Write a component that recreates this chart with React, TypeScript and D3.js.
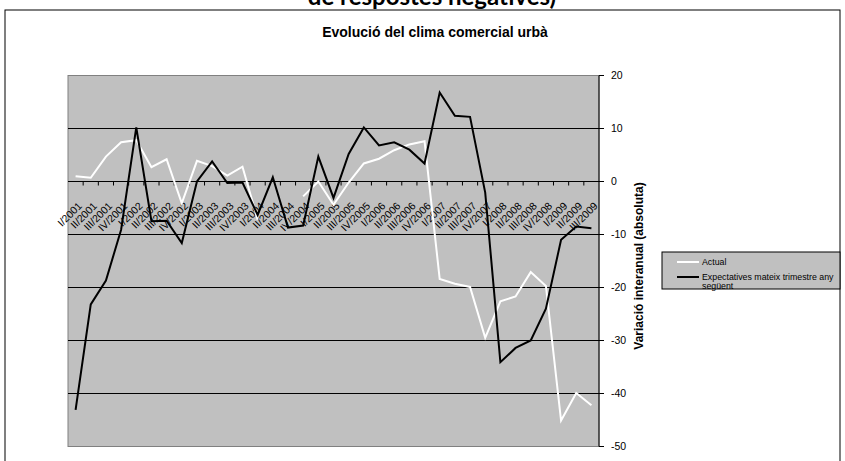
import React from "react";
import * as d3 from "d3";

const quarters = ["I", "II", "III", "IV"];
const categories: string[] = Array.from({ length: 35 }, (_, i) => `${quarters[i % 4]}/${2001 + Math.floor(i / 4)}`);

const actual: (number | null)[] = [1.0, 0.7, 4.7, 7.4, 7.8, 2.7, 4.2, -4.1, 3.9, 2.9, 1.1, 2.8, -7.2, null, null, -2.8, 0.0, -4.4, -0.2, 3.4, 4.3, 5.9, 7.0, 7.6, -18.4, -19.3, -19.9, -29.5, -22.6, -21.7, -17.1, -19.7, -45.1, -39.9, -42.2];
const expectatives: (number | null)[] = [-43.1, -23.2, -18.7, -9.1, 10.2, -7.5, -7.4, -11.6, 0.0, 3.8, -0.3, -0.2, -6.3, 0.8, -8.7, -8.3, 4.7, -3.1, 5.2, 10.2, 6.8, 7.4, 6.0, 3.4, 16.8, 12.4, 12.2, -2.1, -34.1, -31.4, -30.0, -24.0, -11.0, -8.5, -8.8];
const yTicks = [20, 10, 0, -10, -20, -30, -40, -50];

const W = 845, H = 461;
const P = { left: 68, right: 599, top: 75.5, bottom: 446.5 };

export default function App() {
  const x = d3.scaleBand<string>().domain(categories).range([P.left, P.right]).padding(0);
  const bw = x.bandwidth();
  const cx = (i: number) => (x(categories[i]) as number) + bw / 2;
  const y = d3.scaleLinear().domain([-50, 20]).range([P.bottom, P.top]);
  const line = d3.line<number | null>()
    .defined((d) => d !== null)
    .x((_, i) => cx(i))
    .y((d) => y(d as number));
  const y0 = y(0);
  const font = "'Liberation Sans', Arial, sans-serif";

  return (
    <svg width={W} height={H} style={{ position: "absolute", left: 0, top: 0, background: "#fff" }} fontFamily={font}>
      <text x={432} y={5} textAnchor="middle" fontSize={24} fontWeight="bold" fontFamily="Lato, sans-serif">de respostes negatives)</text>
      <rect x={5} y={10} width={835} height={470} fill="#fff" stroke="#000" strokeWidth={1} />
      <text x={435} y={37} textAnchor="middle" fontSize={14} fontWeight="bold">Evolució del clima comercial urbà</text>

      <rect x={P.left} y={P.top} width={P.right - P.left} height={P.bottom - P.top} fill="#c0c0c0" stroke="#808080" strokeWidth={1} />
      {yTicks.filter((t) => t < 20 && t > -50).map((t) => (
        <line key={t} x1={P.left} x2={P.right} y1={y(t)} y2={y(t)} stroke="#000" strokeWidth={1} />
      ))}
      {categories.slice(1).map((c) => (
        <line key={c} x1={x(c)} x2={x(c)} y1={y0} y2={y0 + 4} stroke="#000" strokeWidth={1} />
      ))}
      {categories.map((c, i) => (
        <text key={c} transform={`translate(${cx(i) + 7},${y0 + 25}) rotate(-45)`} textAnchor="end" fontSize={10.5} fill="#000">{c}</text>
      ))}

      <path d={line(actual) || ""} fill="none" stroke="#fff" strokeWidth={2} />
      <path d={line(expectatives) || ""} fill="none" stroke="#000" strokeWidth={2} />

      <line x1={P.right} x2={P.right} y1={P.top} y2={P.bottom} stroke="#000" strokeWidth={1} />
      {yTicks.map((t) => (
        <g key={t}>
          <line x1={P.right} x2={P.right + 5} y1={y(t)} y2={y(t)} stroke="#000" />
          <text x={P.right + 12} y={y(t)} dy="0.35em" fontSize={10.5}>{t}</text>
        </g>
      ))}
      <text transform={`translate(${643},${266}) rotate(-90)`} textAnchor="middle" fontSize={12} fontWeight="bold">Variació interanual (absoluta)</text>

      <rect x={662} y={252} width={178} height={37} fill="#c0c0c0" stroke="#000" strokeWidth={1} />
      <line x1={677} x2={699} y1={262} y2={262} stroke="#fff" strokeWidth={2} />
      <text x={702} y={262} dy="0.35em" fontSize={8.8}>Actual</text>
      <line x1={677} x2={699} y1={277} y2={277} stroke="#000" strokeWidth={2} />
      <text x={702} y={277} dy="0.35em" fontSize={8.8}>Expectatives mateix trimestre any</text>
      <text x={702} y={286} dy="0.35em" fontSize={8.8}>següent</text>
    </svg>
  );
}
